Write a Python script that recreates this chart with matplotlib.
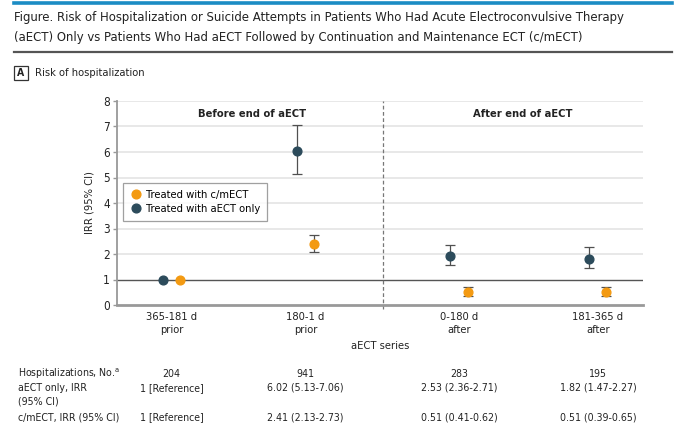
import matplotlib
matplotlib.use("Agg")
import matplotlib.pyplot as plt
from matplotlib.lines import Line2D
from matplotlib.patches import Rectangle
from matplotlib.transforms import blended_transform_factory
from matplotlib import font_manager

# a condensed sans if there is one, otherwise plain DejaVu a bit smaller
cond = [f for f in font_manager.fontManager.ttflist
        if f.name == "DejaVu Sans" and f.stretch == "condensed" and f.style == "normal"]
if cond:
    plt.rcParams["font.family"] = ["DejaVu Sans"]
    plt.rcParams["font.stretch"] = "condensed"
    k = 1.0
else:
    plt.rcParams["font.family"] = ["DejaVu Sans"]
    k = 0.84

# data
periods = ["365-181 d\nprior", "180-1 d\nprior", "0-180 d\nafter", "181-365 d\nafter"]
aect_irr = [1.0, 6.03, 1.93, 1.80]
aect_lo = [1.0, 5.15, 1.58, 1.46]
aect_hi = [1.0, 7.07, 2.34, 2.26]
cm_irr = [1.0, 2.40, 0.52, 0.52]
cm_lo = [1.0, 2.09, 0.37, 0.36]
cm_hi = [1.0, 2.75, 0.72, 0.72]
aect_has_ci = [False, True, True, True]
cm_has_ci = [False, True, True, True]

hosp_no = ["204", "941", "283", "195"]
aect_txt = ["1 [Reference]", "6.02 (5.13-7.06)", "2.53 (2.36-2.71)", "1.82 (1.47-2.27)"]
cm_txt = ["1 [Reference]", "2.41 (2.13-2.73)", "0.51 (0.41-0.62)", "0.51 (0.39-0.65)"]

ORANGE = "#F39A12"
DARK = "#2C4B5B"
GRID = "#E2E2E2"
TXT = "#222222"
MS = 6.3

xpos = [0.1036, 0.3584, 0.6502, 0.9144]
off = 0.0162

fig = plt.figure(figsize=(6.8, 4.41), dpi=100)

# header
fig.add_artist(Line2D([14/680, 672/680], [1-3/441, 1-3/441], color="#1B8CC4", lw=2.6))
fig.text(14/680, 1-17/441, "Figure. Risk of Hospitalization or Suicide Attempts in Patients Who Had Acute Electroconvulsive Therapy",
         fontsize=9.4*k, color=TXT, va="center", ha="left")
fig.text(14/680, 1-37/441, "(aECT) Only vs Patients Who Had aECT Followed by Continuation and Maintenance ECT (c/mECT)",
         fontsize=9.4*k, color=TXT, va="center", ha="left")
fig.add_artist(Line2D([14/680, 672/680], [1-52/441, 1-52/441], color="#555555", lw=1.6))
fig.add_artist(Rectangle((14/680, 1-80/441), 14/680, 14/441, fill=False, ec="#333333", lw=0.9))
fig.text(21/680, 1-73/441, "A", fontsize=7.5*k, fontweight="bold", ha="center", va="center", color=TXT)
fig.text(35/680, 1-73/441, "Risk of hospitalization", fontsize=8*k, ha="left", va="center", color=TXT)

ax = fig.add_axes([117/680, 1-305/441, 526/680, 204/441])
ax.set_xlim(0, 1)
ax.set_ylim(0, 8)

for y in range(2, 9):
    ax.axhline(y, color=GRID, lw=1.1, zorder=0)
ax.axhline(1, color="#555555", lw=1, zorder=1)
ax.axvline(0.5057, color="#777777", lw=0.9, ls=(0, (3, 2)), ymin=-0.02, clip_on=False, zorder=1)

for i in range(4):
    x = xpos[i]
    if aect_has_ci[i]:
        ax.errorbar(x - off, aect_irr[i], yerr=[[aect_irr[i] - aect_lo[i]], [aect_hi[i] - aect_irr[i]]],
                    fmt="none", ecolor="#505050", elinewidth=0.9, capsize=3.6, capthick=0.9, zorder=2)
    if cm_has_ci[i]:
        ax.errorbar(x + off, cm_irr[i], yerr=[[cm_irr[i] - cm_lo[i]], [cm_hi[i] - cm_irr[i]]],
                    fmt="none", ecolor="#505050", elinewidth=0.9, capsize=3.6, capthick=0.9, zorder=2)
ax.plot([x - off for x in xpos], aect_irr, "o", color=DARK, ms=MS, ls="none", zorder=3)
ax.plot([x + off for x in xpos], cm_irr, "o", color=ORANGE, ms=MS, ls="none", zorder=3)

ax.text(0.257, 7.5, "Before end of aECT", ha="center", va="center", fontsize=8*k, fontweight="bold", color=TXT)
ax.text(0.772, 7.5, "After end of aECT", ha="center", va="center", fontsize=8*k, fontweight="bold", color=TXT)

for s in ["top", "right"]:
    ax.spines[s].set_visible(False)
ax.spines["left"].set_color("#999999")
ax.spines["left"].set_linewidth(1.3)
ax.spines["bottom"].set_color("#999999")
ax.spines["bottom"].set_linewidth(2)
ax.set_yticks(range(0, 9))
ax.tick_params(axis="y", colors="#999999", labelcolor=TXT, labelsize=8.5*k, length=3, width=1, pad=2)
ax.set_xticks(xpos)
ax.set_xticklabels(periods, fontsize=8*k, color=TXT, linespacing=1.4)
ax.tick_params(axis="x", length=0, pad=5)
ax.set_xlabel("aECT series", fontsize=8*k, color=TXT, labelpad=4)
ax.set_ylabel("IRR (95% CI)", fontsize=8*k, color=TXT, labelpad=6)

h1 = Line2D([], [], marker="o", color=ORANGE, ls="none", ms=MS, label="Treated with c/mECT")
h2 = Line2D([], [], marker="o", color=DARK, ls="none", ms=MS, label="Treated with aECT only")
leg = ax.legend(handles=[h1, h2], loc="upper left", bbox_to_anchor=(0.011, 0.598), fontsize=8*k,
                frameon=True, fancybox=False, edgecolor="#888888", handletextpad=0.3,
                borderpad=0.6, labelspacing=0.4, handlelength=1.2, borderaxespad=0)
leg.get_frame().set_linewidth(0.9)

# table under the chart
tr = blended_transform_factory(ax.transData, fig.transFigure)
rows_y = [1-374/441, 1-388/441, 1-417/441]
tfs = 7.6*k
fig.text(18/680, rows_y[0], "Hospitalizations, No.$^{\\mathregular{a}}$", fontsize=tfs, ha="left", va="center", color=TXT)
fig.text(18/680, rows_y[1], "aECT only, IRR", fontsize=tfs, ha="left", va="center", color=TXT)
fig.text(18/680, 1-402/441, "(95% CI)", fontsize=tfs, ha="left", va="center", color=TXT)
fig.text(18/680, rows_y[2], "c/mECT, IRR (95% CI)", fontsize=tfs, ha="left", va="center", color=TXT)
for i in range(4):
    ax.text(xpos[i], rows_y[0], hosp_no[i], transform=tr, fontsize=tfs, ha="center", va="center", color=TXT)
    ax.text(xpos[i], rows_y[1], aect_txt[i], transform=tr, fontsize=tfs, ha="center", va="center", color=TXT)
    ax.text(xpos[i], rows_y[2], cm_txt[i], transform=tr, fontsize=tfs, ha="center", va="center", color=TXT)

fig.savefig("out.png", dpi=100)
